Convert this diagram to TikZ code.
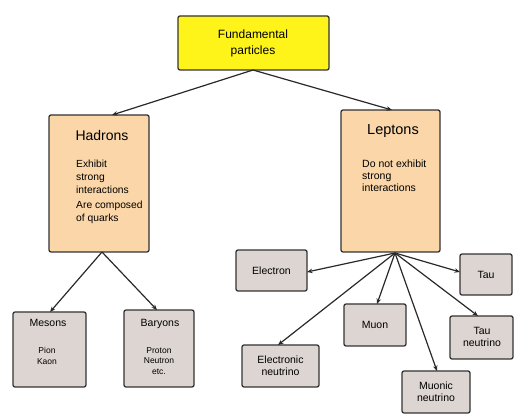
\documentclass[tikz,border=0pt]{standalone}
\usepackage{fontspec}
\setmainfont{Liberation Sans}
\usetikzlibrary{arrows.meta}
\definecolor{topyel}{HTML}{FFF41A}
\definecolor{peach}{HTML}{FAD6A8}
\definecolor{greyb}{HTML}{DDD5D1}
\definecolor{edge}{HTML}{333333}
\begin{document}
\begin{tikzpicture}[x=1pt,y=-1pt,
  box/.style={draw=edge,line width=1.3pt,rounded corners=2pt},
  conn/.style={draw=edge!80!black,line width=1.2pt,-{Stealth[length=5.5pt,width=4.5pt]}},
  txt/.style={inner sep=0pt,align=center,font=\fontsize{10.5}{13}\selectfont},
  ]
\useasboundingbox[fill=white] (0,0) rectangle (520,419);
% boxes
\filldraw[box,fill=topyel] (178,16) rectangle (329,70);
\node[txt,font=\fontsize{12}{16}\selectfont] (fp) at (253,43) {Fundamental\\particles};
\coordinate (fpb) at (253,70);

\filldraw[box,fill=peach] (49,115) rectangle (149,252);
\node[inner sep=0pt,font=\fontsize{14}{16}\selectfont] (had) at (102,135) {Hadrons};
\node[inner sep=0pt,align=left,anchor=north west,font=\fontsize{10.3}{12.8}\selectfont] (hadtxt) at (76,160) {Exhibit\\strong\\interactions};
\node[inner sep=0pt,align=left,anchor=north west,font=\fontsize{10.3}{12.8}\selectfont] (hadtxt2) at (76,201) {Are composed\\of quarks};
\coordinate (hadt) at (112,115);
\coordinate (hadb) at (102,252);

\filldraw[box,fill=peach] (341,110) rectangle (440,252);
\node[inner sep=0pt,font=\fontsize{14.5}{16}\selectfont] (lep) at (393,131) {Leptons};
\node[inner sep=0pt,align=left,anchor=north west,font=\fontsize{10.5}{12}\selectfont] (leptxt) at (362,160) {Do not exhibit\\strong\\interactions};
\coordinate (lept) at (392,110);
\coordinate (lepb) at (395,253);

% hadron children
\filldraw[box,fill=greyb] (13,312) rectangle (86,387);
\node[inner sep=0pt,font=\fontsize{10.5}{12}\selectfont] (mes) at (48,323) {Mesons};
\node[inner sep=0pt,align=center,font=\fontsize{8.5}{10.5}\selectfont] (mestxt) at (47,356) {Pion\\Kaon};
\coordinate (mest) at (50,312);

\filldraw[box,fill=greyb] (124,310) rectangle (194,387);
\node[inner sep=0pt,font=\fontsize{10.5}{12}\selectfont] (bar) at (160,324) {Baryons};
\node[inner sep=0pt,align=center,font=\fontsize{8.5}{10.5}\selectfont] (bartxt) at (159,361) {Proton\\Neutron\\etc.};
\coordinate (bart) at (157,310);

% lepton children
\filldraw[box,fill=greyb] (236,250) rectangle (307,291);
\node[txt] (ele) at (271.5,271) {Electron};
\coordinate (eler) at (307,272);

\filldraw[box,fill=greyb] (460,254) rectangle (512,295);
\node[txt] (tau) at (486,275) {Tau};
\coordinate (taul) at (460,272);

\filldraw[box,fill=greyb] (344,304) rectangle (406,346);
\node[txt] (muon) at (375,325) {Muon};
\coordinate (muont) at (377,304);

\filldraw[box,fill=greyb] (450,316) rectangle (513,359);
\node[txt,font=\fontsize{10.5}{12}\selectfont] (taun) at (482,337) {Tau\\neutrino};
\coordinate (taunt) at (478,316);

\filldraw[box,fill=greyb] (242,345) rectangle (319,387);
\node[txt,font=\fontsize{10.5}{12}\selectfont] (elen) at (280.5,366) {Electronic\\neutrino};
\coordinate (elent) at (278,345);

\filldraw[box,fill=greyb] (402,371) rectangle (470,413);
\node[txt,font=\fontsize{10.5}{12}\selectfont] (mun) at (436,392) {Muonic\\neutrino};
\coordinate (munt) at (437,371);

% connectors
\draw[conn] (fpb) -- (hadt);
\draw[conn] (fpb) -- (lept);
\draw[conn] (hadb) -- (mest);
\draw[conn] (hadb) -- (bart);
\draw[conn] (lepb) -- (eler);
\draw[conn] (lepb) -- (taul);
\draw[conn] (lepb) -- (muont);
\draw[conn] (lepb) -- (taunt);
\draw[conn] (lepb) -- (elent);
\draw[conn] (lepb) -- (munt);
\end{tikzpicture}
\end{document}
